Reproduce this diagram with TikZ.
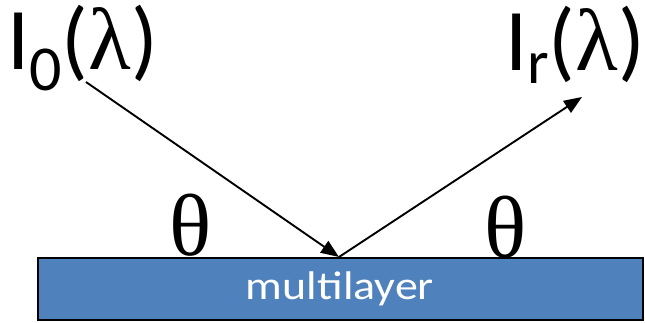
\documentclass[tikz,border=0pt]{standalone}
\usepackage{fontspec}
\setmainfont{Carlito}
\newfontfamily\greekfont{Liberation Serif}
\newcommand\lam{{\greekfont λ}}
\usetikzlibrary{arrows.meta,positioning}
\definecolor{layerblue}{RGB}{79,129,189}

\begin{document}
\begin{tikzpicture}[x=1pt, y=-1pt, >={Triangle[length=18pt,width=14pt]},
    every node/.style={inner sep=0pt},
    beam/.style={->, line width=1.9pt},
    layerbox/.style={rectangle, draw=black, line width=2pt, fill=layerblue, minimum width=605pt, minimum height=62pt, text=white, font=\fontsize{40}{40}\selectfont},
    biglabel/.style={anchor=base west, font=\fontsize{88}{88}\selectfont},
    anglelabel/.style={anchor=base, font=\fontsize{88}{88}\selectfont\greekfont}]
    \useasboundingbox (0,0) rectangle (645,322);

    % Sample.
    \node[layerbox] (layer) at (340,289) {\scalebox{1.15}[1]{multilayer}};

    % Beams.
    \coordinate (src) at (86,82);
    \coordinate (hit) at ([xshift=-1pt]layer.north);
    \coordinate (dst) at (582,97);
    \draw[beam] (src) -- (hit);
    \draw[beam] (hit) -- (dst);

    % Intensities.
    \node[biglabel] (I_in) at (7,69) {I\raisebox{-21pt}{\fontsize{64}{64}\selectfont 0}(\lam)};
    \node[biglabel] (I_out) at (505,70) {I\raisebox{-13pt}{\fontsize{62}{62}\selectfont r}(\lam)};

    % Angles.
    \node[anglelabel] (theta_in) at (191,255) {θ};
    \node[anglelabel] (theta_out) at (506,257) {θ};
\end{tikzpicture}
\end{document}
